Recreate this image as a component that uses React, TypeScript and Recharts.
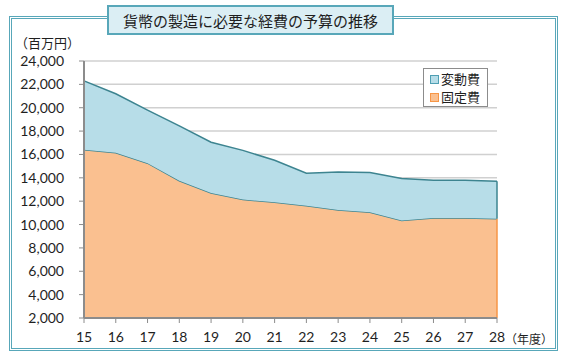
import React from "react";
import {
  AreaChart,
  Area,
  XAxis,
  YAxis,
  CartesianGrid,
  ReferenceLine,
} from "recharts";

const years = ["15", "16", "17", "18", "19", "20", "21", "22", "23", "24", "25", "26", "27", "28"];
const fixedCost = [16400, 16150, 15250, 13750, 12700, 12150, 11900, 11600, 11250, 11050, 10350, 10550, 10550, 10500];
const variableCost = [5900, 5050, 4550, 4700, 4350, 4200, 3600, 2800, 3250, 3400, 3600, 3250, 3250, 3200];
const yTicks = [2000, 4000, 6000, 8000, 10000, 12000, 14000, 16000, 18000, 20000, 22000, 24000];

const seriesNames = { variable: "変動費", fixed: "固定費" };

const data = years.map((y, i) => ({
  year: y,
  fixed: fixedCost[i],
  variable: variableCost[i],
}));

const BLUE = "#b7dde8";
const ORANGE = "#fac090";
const TEAL_LINE = "#3d8490";
const ORANGE_LINE = "#f79646";
const TEXT = "#1f1f1f";
const LATIN = "Lato, 'Noto Sans CJK JP', sans-serif";
const CJK = "'Noto Sans CJK JP', sans-serif";

const fmt = (v: number) => v.toLocaleString("en-US");

const LegendBox = () => (
  <div
    style={{
      position: "absolute",
      left: 423,
      top: 68,
      background: "#fff",
      border: "1px solid #8c8c8c",
      width: 65,
      height: 39,
      boxSizing: "border-box",
      padding: "1px 0 0 6px",
      fontFamily: CJK,
      fontSize: 13,
      color: TEXT,
      lineHeight: "18px",
    }}
  >
    {[
      { name: seriesNames.variable, fill: BLUE, border: "#4f9fb3" },
      { name: seriesNames.fixed, fill: ORANGE, border: ORANGE_LINE },
    ].map((it) => (
      <div key={it.name} style={{ display: "flex", alignItems: "center", whiteSpace: "nowrap" }}>
        <span
          style={{
            display: "inline-block",
            width: 7,
            height: 7,
            background: it.fill,
            border: `1px solid ${it.border}`,
            marginRight: 2,
          }}
        />
        <span>{it.name}</span>
      </div>
    ))}
  </div>
);

export default function App() {
  const last = data.length - 1;
  return (
    <div style={{ position: "absolute", left: 0, top: 0, width: 567, height: 355, background: "#fff" }}>
      <div
        style={{
          position: "absolute",
          left: 9,
          top: 16,
          width: 549,
          height: 335,
          boxSizing: "border-box",
          border: "3px double #58a7b9",
        }}
      />
      <div style={{ position: "absolute", left: 0, top: 0 }}>
        <AreaChart
          width={567}
          height={355}
          data={data}
          margin={{ top: 61, right: 70, bottom: 7, left: 10 }}
        >
          <CartesianGrid vertical={false} stroke="#d0d0d0" strokeWidth={1.5} />
          <XAxis
            dataKey="year"
            axisLine={{ stroke: "#8c8c8c", strokeWidth: 2 }}
            tickLine={{ stroke: "#8c8c8c" }}
            tickSize={5}
            tickMargin={9}
            height={30}
            interval={0}
            tick={{ fill: TEXT, fontSize: 14, fontFamily: LATIN }}
          />
          <YAxis
            type="number"
            domain={[2000, 24000]}
            ticks={yTicks}
            interval={0}
            allowDataOverflow
            width={74}
            axisLine={{ stroke: "#8c8c8c", strokeWidth: 2 }}
            tickLine={{ stroke: "#8c8c8c" }}
            tickSize={5}
            tickMargin={15}
            tickFormatter={fmt}
            tick={{ fill: TEXT, fontSize: 14, fontFamily: LATIN }}
          />
          <Area
            type="linear"
            dataKey="fixed"
            stackId="a"
            name={seriesNames.fixed}
            fill={ORANGE}
            fillOpacity={1}
            stroke={TEAL_LINE}
            strokeWidth={1.5}
            isAnimationActive={false}
          />
          <Area
            type="linear"
            dataKey="variable"
            stackId="a"
            name={seriesNames.variable}
            fill={BLUE}
            fillOpacity={1}
            stroke={TEAL_LINE}
            strokeWidth={1.5}
            isAnimationActive={false}
          />
          <ReferenceLine
            segment={[
              { x: years[last], y: 2000 },
              { x: years[last], y: fixedCost[last] },
            ]}
            stroke={ORANGE_LINE}
            strokeWidth={1.5}
          />
          <ReferenceLine
            segment={[
              { x: years[last], y: fixedCost[last] },
              { x: years[last], y: fixedCost[last] + variableCost[last] },
            ]}
            stroke={TEAL_LINE}
            strokeWidth={1.5}
          />
        </AreaChart>
      </div>
      <LegendBox />
      <div
        style={{
          position: "absolute",
          left: 107,
          top: 5,
          width: 287,
          height: 30,
          boxSizing: "border-box",
          background: "#dbeef4",
          border: "2px solid #58a7b9",
          fontFamily: CJK,
          fontSize: 15,
          color: TEXT,
          display: "flex",
          alignItems: "center",
          justifyContent: "center",
          whiteSpace: "nowrap",
        }}
      >
        貨幣の製造に必要な経費の予算の推移
      </div>
      <div
        style={{
          position: "absolute",
          left: 15,
          top: 34,
          fontFamily: CJK,
          fontSize: 13,
          lineHeight: "18px",
          color: TEXT,
          whiteSpace: "nowrap",
        }}
      >
        （百万円）
      </div>
      <div
        style={{
          position: "absolute",
          left: 505,
          top: 330,
          fontFamily: CJK,
          fontSize: 12,
          lineHeight: "18px",
          color: TEXT,
          whiteSpace: "nowrap",
        }}
      >
        （年度）
      </div>
    </div>
  );
}
